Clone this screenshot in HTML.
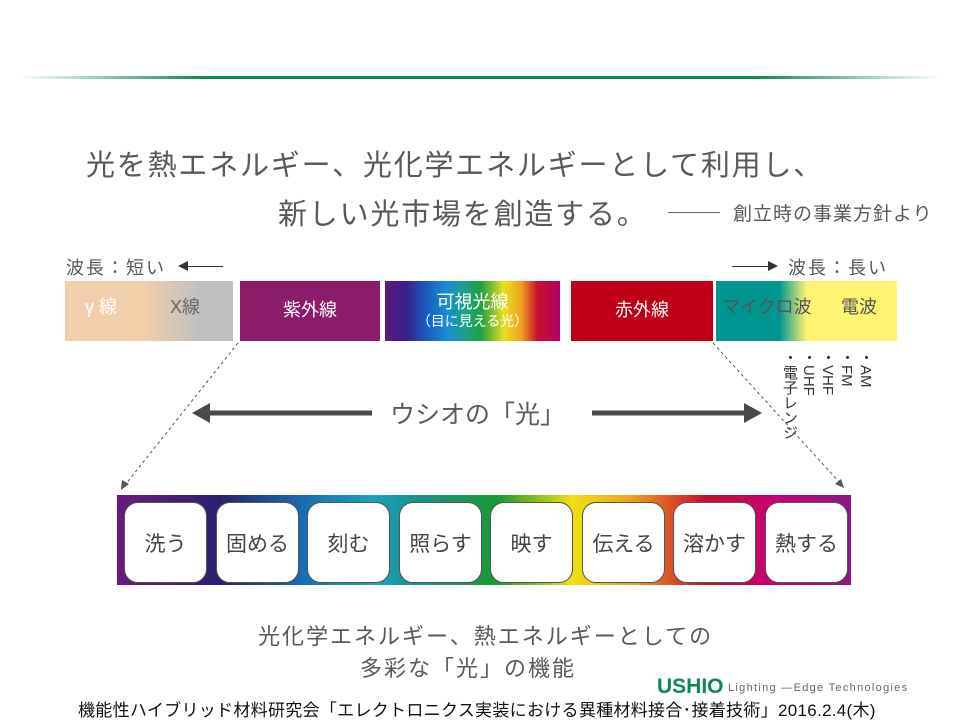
<!DOCTYPE html>
<html><head><meta charset="utf-8"><style>
body{margin:0;width:960px;height:720px;background:#fff;position:relative;overflow:hidden;font-family:"Liberation Sans","Noto Sans CJK JP",sans-serif;color:#595959}
.a{position:absolute;white-space:nowrap}
.seg{position:absolute;top:281px;height:60px;color:#fff;font-size:18px;display:flex;align-items:center;justify-content:center;flex-direction:column;line-height:1.2}
.box{position:absolute;top:502px;width:83px;height:81px;background:#fff;border:1px solid #555;border-radius:14px;box-sizing:border-box;display:flex;align-items:center;justify-content:center;font-size:21px;color:#444}
</style></head><body>
<div class="a" style="left:20px;top:76px;width:920px;height:3px;background:linear-gradient(90deg,rgba(0,140,80,0),#0a8a50 20%,#0a8a50 80%,rgba(0,140,80,0))"></div>
<div class="a" style="left:86px;top:142px;font-size:29px;letter-spacing:1.8px;color:#595959">光を熱エネルギー、光化学エネルギーとして利用し、</div>
<div class="a" style="left:278px;top:191px;font-size:29px;letter-spacing:1.8px;color:#595959">新しい光市場を創造する。</div>
<div class="a" style="left:668px;top:212px;width:52px;height:1px;background:#666"></div>
<div class="a" style="left:733px;top:199px;font-size:19px;letter-spacing:1px">創立時の事業方針より</div>
<div class="a" style="left:66px;top:254px;font-size:18px;letter-spacing:2px">波長：短い</div>
<div class="a" style="left:180px;top:266px;width:43px;height:1px;background:#333"></div>
<div class="a" style="left:178px;top:261px;width:0;height:0;border-top:5px solid transparent;border-bottom:5px solid transparent;border-right:10px solid #333"></div>
<div class="a" style="left:732px;top:266px;width:40px;height:1px;background:#333"></div>
<div class="a" style="left:768px;top:261px;width:0;height:0;border-top:5px solid transparent;border-bottom:5px solid transparent;border-left:10px solid #333"></div>
<div class="a" style="left:788px;top:254px;font-size:18px;letter-spacing:2px">波長：長い</div>
<div class="seg" style="left:65px;width:168px;background:linear-gradient(90deg,#f2cfaa 45%,#c0c0c0 80%)"><span style="position:absolute;left:20px;top:16px;color:#fff">γ 線</span><span style="position:absolute;left:105px;top:16px;color:#666">X線</span></div>
<div class="seg" style="left:240px;width:140px;background:#8a1c6a">紫外線</div>
<div class="seg" style="left:385px;width:175px;background:linear-gradient(90deg,#5a1a7a 0%,#3a1e8a 12%,#1b55b8 22%,#1a8bd6 35%,#1aa090 45%,#22a040 55%,#e8e020 68%,#f0a020 78%,#c8102e 87%,#b00060 100%)">可視光線<span style="font-size:14px">（目に見える光）</span></div>
<div class="seg" style="left:571px;width:142px;background:#c00018">赤外線</div>
<div class="seg" style="left:716px;width:181px;background:linear-gradient(90deg,#00958f 35%,#fef373 50%,#fef373)"><span style="position:absolute;left:6px;top:16px;color:#555">マイクロ波</span><span style="position:absolute;left:125px;top:16px;color:#555">電波</span></div>
<div class="a" style="left:780px;top:350px;font-size:15px;writing-mode:vertical-rl;line-height:19px;color:#333;height:95px">・AM<br>・FM<br>・VHF<br>・UHF<br>・電子レンジ</div>
<svg class="a" style="left:0;top:0" width="960" height="720">
<line x1="238" y1="343" x2="125" y2="485" stroke="#555" stroke-dasharray="3,3"/>
<polygon points="121,490 122,480 129,484" fill="#555"/>
<line x1="713" y1="343" x2="840" y2="483" stroke="#555" stroke-dasharray="3,3"/>
<polygon points="844,488 835,484 841,479" fill="#555"/>
<line x1="205" y1="413" x2="372" y2="413" stroke="#4a4a4a" stroke-width="5"/>
<polygon points="192,413 210,403 210,423" fill="#4a4a4a"/>
<line x1="592" y1="413" x2="748" y2="413" stroke="#4a4a4a" stroke-width="5"/>
<polygon points="762,413 744,403 744,423" fill="#4a4a4a"/>
</svg>
<div class="a" style="left:390px;top:395px;font-size:25px;color:#595959">ウシオの「光」</div>
<div class="a" style="left:117px;top:495px;width:734px;height:90px;background:linear-gradient(90deg,#6a1a80 0%,#2a2070 14%,#1a6ab0 25%,#1aa0c0 35%,#1a9080 42%,#1a9a30 52%,#f0e010 62%,#f0a020 70%,#c8102e 80%,#c8007a 90%,#8a1a80 100%)"></div>
<div class="box" style="left:124px">洗う</div>
<div class="box" style="left:216px">固める</div>
<div class="box" style="left:307px">刻む</div>
<div class="box" style="left:399px">照らす</div>
<div class="box" style="left:490px">映す</div>
<div class="box" style="left:582px">伝える</div>
<div class="box" style="left:673px">溶かす</div>
<div class="box" style="left:765px">熱する</div>
<div class="a" style="left:258px;top:619px;font-size:22px;letter-spacing:2px">光化学エネルギー、熱エネルギーとしての</div>
<div class="a" style="left:360px;top:651px;font-size:22px;letter-spacing:2px">多彩な「光」の機能</div>
<div class="a" style="left:657px;top:675px;font-size:21px;font-weight:bold;color:#0a8a50;letter-spacing:0px">USHIO</div>
<div class="a" style="left:728px;top:682px;font-size:11px;color:#666;letter-spacing:1.3px">Lighting —Edge Technologies</div>
<div class="a" style="left:78px;top:696px;font-size:17px;color:#111;letter-spacing:0.3px">機能性ハイブリッド材料研究会「エレクトロニクス実装における異種材料接合･接着技術」2016.2.4(木)</div>
</body></html>
